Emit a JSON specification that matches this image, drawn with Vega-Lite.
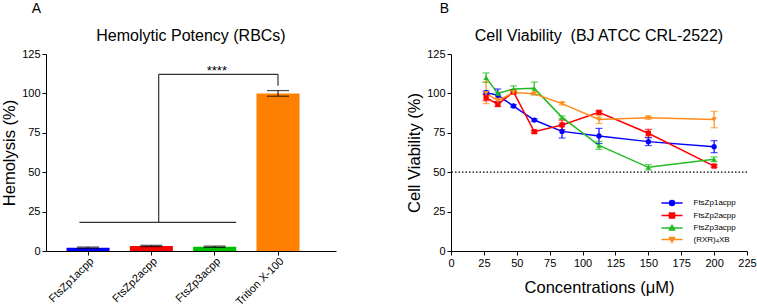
{
  "$schema": "https://vega.github.io/schema/vega-lite/v6.json",
  "padding": {"left": 1, "top": 2, "right": 0, "bottom": 0},
  "background": "white",
  "config": {
    "font": "Liberation Sans",
    "view": {"stroke": null},
    "axis": {
      "domainColor": "#000000", "tickColor": "#000000", "labelColor": "#000000", "titleColor": "#000000",
      "labelFont": "Liberation Sans", "labelFontSize": 11, "tickSize": 4, "labelPadding": 2,
      "titleFont": "Liberation Sans", "titleFontSize": 16.5, "titleFontWeight": "normal",
      "grid": false, "domainWidth": 1, "tickWidth": 1, "tickCount": 20, "labelFlush": false
    },
    "title": {"font": "Liberation Sans", "fontWeight": "normal", "color": "#000000"}
  },
  "resolve": {"scale": {"color": "independent"}, "legend": {"color": "independent"}},
  "spacing": 70,
  "hconcat": [
    {
      "title": {"text": "A", "anchor": "start", "dx": 30, "fontSize": 14, "offset": 12},
      "vconcat": [
        {
          "width": 290,
          "height": 197,
          "title": {"text": "Hemolytic Potency (RBCs)", "fontSize": 16, "offset": 4},
          "data": {"values": [
            {"group": "FtsZp1acpp", "mean": 2.1, "lo": 1.7, "hi": 2.5},
            {"group": "FtsZp2acpp", "mean": 3.2, "lo": 2.8, "hi": 3.6},
            {"group": "FtsZp3acpp", "mean": 2.7, "lo": 2.3, "hi": 3.1},
            {"group": "Trition X-100", "mean": 100, "lo": 98.2, "hi": 101.8}
          ]},
          "layer": [
            {
              "mark": {"type": "bar"},
              "encoding": {
                "x": {"field": "group", "type": "nominal", "sort": null,
                  "scale": {"paddingInner": 0.32, "paddingOuter": 0.45, "align": 0.36},
                  "axis": {"title": null, "labelAngle": -45, "labelFontSize": 11, "labelPadding": 0}},
                "y": {"field": "mean", "type": "quantitative",
                  "scale": {"domain": [0, 125], "nice": false},
                  "axis": {"values": [0, 25, 50, 75, 100, 125], "title": "Hemolysis (%)", "titlePadding": 4}},
                "color": {"field": "group", "type": "nominal", "sort": null,
                  "scale": {"domain": ["FtsZp1acpp", "FtsZp2acpp", "FtsZp3acpp", "Trition X-100"], "range": ["#0000FF", "#FF0000", "#00C000", "#FF8000"]}, "legend": null}
              }
            },
            {
              "mark": {"type": "rule", "color": "#000000", "strokeWidth": 1},
              "encoding": {
                "x": {"field": "group", "type": "nominal", "sort": null},
                "y": {"field": "lo", "type": "quantitative"},
                "y2": {"field": "hi"}
              }
            },
            {
              "mark": {"type": "tick", "color": "#000000", "thickness": 1.2},
              "encoding": {
                "x": {"field": "group", "type": "nominal", "sort": null},
                "y": {"field": "lo", "type": "quantitative"},
                "size": {"value": 22}
              }
            },
            {
              "mark": {"type": "tick", "color": "#000000", "thickness": 1.2},
              "encoding": {
                "x": {"field": "group", "type": "nominal", "sort": null},
                "y": {"field": "hi", "type": "quantitative"},
                "size": {"value": 22}
              }
            },
            {
              "data": {"values": [{"from": "FtsZp1acpp", "to": "FtsZp3acpp", "level": 18.2}]},
              "mark": {"type": "rule", "color": "#333333", "strokeWidth": 1.2},
              "encoding": {
                "x": {"field": "from", "type": "nominal", "bandPosition": 0.3},
                "x2": {"field": "to", "bandPosition": 1},
                "y": {"field": "level", "type": "quantitative"}
              }
            },
            {
              "data": {"values": [{"at": "FtsZp2acpp", "low": 18.2, "high": 112.1}]},
              "mark": {"type": "rule", "color": "#333333", "strokeWidth": 1.2},
              "encoding": {
                "x": {"field": "at", "type": "nominal", "bandPosition": 0.67},
                "y": {"field": "low", "type": "quantitative"},
                "y2": {"field": "high"}
              }
            },
            {
              "data": {"values": [{"from": "FtsZp2acpp", "to": "Trition X-100", "level": 112.1}]},
              "mark": {"type": "rule", "color": "#333333", "strokeWidth": 1.2},
              "encoding": {
                "x": {"field": "from", "type": "nominal", "bandPosition": 0.67},
                "x2": {"field": "to", "bandPosition": 0.5},
                "y": {"field": "level", "type": "quantitative"}
              }
            },
            {
              "data": {"values": [{"at": "Trition X-100", "low": 104.9, "high": 112.1}]},
              "mark": {"type": "rule", "color": "#333333", "strokeWidth": 1.2},
              "encoding": {
                "x": {"field": "at", "type": "nominal", "bandPosition": 0.5},
                "y": {"field": "low", "type": "quantitative"},
                "y2": {"field": "high"}
              }
            },
            {
              "data": {"values": [{"at": "FtsZp3acpp", "level": 111.5, "label": "****"}]},
              "mark": {"type": "text", "fontSize": 13, "baseline": "alphabetic", "align": "center", "color": "#000000"},
              "encoding": {
                "x": {"field": "at", "type": "nominal", "bandPosition": 0.55},
                "y": {"field": "level", "type": "quantitative"},
                "text": {"field": "label"}
              }
            }
          ]
        }
      ]
    },
    {
      "title": {"text": "B", "anchor": "start", "dx": 33, "fontSize": 14, "offset": 12},
      "resolve": {"legend": {"color": "independent"}},
      "vconcat": [
        {
          "width": 296,
          "height": 197,
          "title": {"text": "Cell Viability\u00a0\u00a0(BJ ATCC CRL-2522)", "fontSize": 16, "offset": 4},
          "data": {"values": [
            {"series": "FtsZp1acpp", "conc": 26.7, "mean": 100.5, "lo": 99.5, "hi": 101.5},
            {"series": "FtsZp1acpp", "conc": 35.6, "mean": 98.8, "lo": 94.8, "hi": 102.8},
            {"series": "FtsZp1acpp", "conc": 47.5, "mean": 92.0, "lo": 91.2, "hi": 92.8},
            {"series": "FtsZp1acpp", "conc": 63.3, "mean": 83.1, "lo": 82.3, "hi": 83.9},
            {"series": "FtsZp1acpp", "conc": 84.4, "mean": 75.9, "lo": 71.7, "hi": 80.1},
            {"series": "FtsZp1acpp", "conc": 112.5, "mean": 73.0, "lo": 68.2, "hi": 77.8},
            {"series": "FtsZp1acpp", "conc": 150, "mean": 69.4, "lo": 66.9, "hi": 71.9},
            {"series": "FtsZp1acpp", "conc": 200, "mean": 66.2, "lo": 62.4, "hi": 70.0},
            {"series": "FtsZp2acpp", "conc": 26.7, "mean": 97.3, "lo": 95.3, "hi": 99.3},
            {"series": "FtsZp2acpp", "conc": 35.6, "mean": 93.1, "lo": 91.6, "hi": 94.6},
            {"series": "FtsZp2acpp", "conc": 47.5, "mean": 100.9, "lo": 100.1, "hi": 101.7},
            {"series": "FtsZp2acpp", "conc": 63.3, "mean": 75.7, "lo": 74.9, "hi": 76.5},
            {"series": "FtsZp2acpp", "conc": 84.4, "mean": 80.0, "lo": 77.0, "hi": 83.0},
            {"series": "FtsZp2acpp", "conc": 112.5, "mean": 88.0, "lo": 87.2, "hi": 88.8},
            {"series": "FtsZp2acpp", "conc": 150, "mean": 74.7, "lo": 72.2, "hi": 77.2},
            {"series": "FtsZp2acpp", "conc": 200, "mean": 53.9, "lo": 53.1, "hi": 54.7},
            {"series": "FtsZp3acpp", "conc": 26.7, "mean": 110.0, "lo": 107.0, "hi": 113.0},
            {"series": "FtsZp3acpp", "conc": 35.6, "mean": 100.0, "lo": 99.2, "hi": 100.8},
            {"series": "FtsZp3acpp", "conc": 47.5, "mean": 102.8, "lo": 100.8, "hi": 104.8},
            {"series": "FtsZp3acpp", "conc": 63.3, "mean": 103.2, "lo": 99.2, "hi": 107.2},
            {"series": "FtsZp3acpp", "conc": 84.4, "mean": 84.8, "lo": 84.0, "hi": 85.6},
            {"series": "FtsZp3acpp", "conc": 112.5, "mean": 67.0, "lo": 64.5, "hi": 69.5},
            {"series": "FtsZp3acpp", "conc": 150, "mean": 53.1, "lo": 51.4, "hi": 54.8},
            {"series": "FtsZp3acpp", "conc": 200, "mean": 58.2, "lo": 56.7, "hi": 59.7},
            {"series": "(RXR)₄XB", "conc": 26.7, "mean": 100.0, "lo": 93.5, "hi": 107.5},
            {"series": "(RXR)₄XB", "conc": 35.6, "mean": 95.4, "lo": 93.4, "hi": 97.4},
            {"series": "(RXR)₄XB", "conc": 47.5, "mean": 100.5, "lo": 99.7, "hi": 101.3},
            {"series": "(RXR)₄XB", "conc": 63.3, "mean": 99.8, "lo": 99.0, "hi": 100.6},
            {"series": "(RXR)₄XB", "conc": 84.4, "mean": 93.5, "lo": 92.7, "hi": 94.3},
            {"series": "(RXR)₄XB", "conc": 112.5, "mean": 83.4, "lo": 80.9, "hi": 85.9},
            {"series": "(RXR)₄XB", "conc": 150, "mean": 84.6, "lo": 83.6, "hi": 85.6},
            {"series": "(RXR)₄XB", "conc": 200, "mean": 83.4, "lo": 78.2, "hi": 88.6}
          ]},
          "layer": [
            {
              "data": {"values": [{"threshold": 50}]},
              "mark": {"type": "rule", "color": "#000000", "strokeWidth": 1.2, "strokeDash": [1.5, 2]},
              "encoding": {"y": {"field": "threshold", "type": "quantitative"}}
            },
            {
              "mark": {"type": "line", "strokeWidth": 1.5},
              "encoding": {
                "x": {"field": "conc", "type": "quantitative",
                  "scale": {"domain": [0, 225], "nice": false},
                  "axis": {"values": [0, 25, 50, 75, 100, 125, 150, 175, 200, 225], "title": "Concentrations (μM)", "titlePadding": 11}},
                "y": {"field": "mean", "type": "quantitative",
                  "scale": {"domain": [0, 125], "nice": false},
                  "axis": {"values": [0, 25, 50, 75, 100, 125], "title": "Cell Viability (%)", "titlePadding": 4}},
                "color": {"field": "series", "type": "nominal",
                  "scale": {"domain": ["FtsZp1acpp", "FtsZp2acpp", "FtsZp3acpp", "(RXR)₄XB"],
                            "range": ["#0000FF", "#FF0000", "#22BB22", "#FF8C1A"]},
                  "legend": {
                    "title": null, "orient": "none", "legendX": 215, "legendY": 143,
                    "labelFontSize": 8, "labelColor": "#000000", "labelFont": "Liberation Sans",
                    "symbolSize": 100, "symbolStrokeWidth": 1.5, "labelOffset": 15.5, "rowPadding": 0.5,
                    "encode": {"symbols": {"update": {
                      "shape": {"signal": "datum.value === 'FtsZp1acpp' ? 'M-2.1,0H2.1M0.5,0A0.5,0.5,0,1,1,-0.5,0A0.5,0.5,0,1,1,0.5,0Z' : datum.value === 'FtsZp2acpp' ? 'M-2.1,0H2.1M-0.5,-0.5H0.5V0.5H-0.5Z' : datum.value === 'FtsZp3acpp' ? 'M-2.1,0H2.1M0,-0.55L0.5,0.4H-0.5Z' : 'M-2.1,0H2.1M0,0.55L0.5,-0.4H-0.5Z'"},
                      "fill": {"scale": "color", "field": "value"},
                      "stroke": {"scale": "color", "field": "value"},
                      "strokeWidth": {"value": 1.5}
                    }}}
                  }}
              }
            },
            {
              "mark": {"type": "rule", "strokeWidth": 1.2},
              "encoding": {
                "x": {"field": "conc", "type": "quantitative"},
                "y": {"field": "lo", "type": "quantitative"},
                "y2": {"field": "hi"},
                "color": {"field": "series", "type": "nominal"}
              }
            },
            {
              "mark": {"type": "tick", "orient": "horizontal", "thickness": 1.2},
              "encoding": {
                "x": {"field": "conc", "type": "quantitative"},
                "y": {"field": "lo", "type": "quantitative"},
                "size": {"value": 7},
                "color": {"field": "series", "type": "nominal"}
              }
            },
            {
              "mark": {"type": "tick", "orient": "horizontal", "thickness": 1.2},
              "encoding": {
                "x": {"field": "conc", "type": "quantitative"},
                "y": {"field": "hi", "type": "quantitative"},
                "size": {"value": 7},
                "color": {"field": "series", "type": "nominal"}
              }
            },
            {
              "transform": [{"filter": "datum.series === 'FtsZp1acpp'"}],
              "mark": {"type": "point", "filled": true, "opacity": 1, "size": 28, "shape": "circle"},
              "encoding": {
                "x": {"field": "conc", "type": "quantitative"},
                "y": {"field": "mean", "type": "quantitative"},
                "color": {"field": "series", "type": "nominal"}
              }
            },
            {
              "transform": [{"filter": "datum.series === 'FtsZp2acpp'"}],
              "mark": {"type": "point", "filled": true, "opacity": 1, "size": 28, "shape": "square"},
              "encoding": {
                "x": {"field": "conc", "type": "quantitative"},
                "y": {"field": "mean", "type": "quantitative"},
                "color": {"field": "series", "type": "nominal"}
              }
            },
            {
              "transform": [{"filter": "datum.series === 'FtsZp3acpp'"}],
              "mark": {"type": "point", "filled": true, "opacity": 1, "size": 28, "shape": "triangle-up"},
              "encoding": {
                "x": {"field": "conc", "type": "quantitative"},
                "y": {"field": "mean", "type": "quantitative"},
                "color": {"field": "series", "type": "nominal"}
              }
            },
            {
              "transform": [{"filter": "datum.series === '(RXR)₄XB'"}],
              "mark": {"type": "point", "filled": true, "opacity": 1, "size": 28, "shape": "triangle-down"},
              "encoding": {
                "x": {"field": "conc", "type": "quantitative"},
                "y": {"field": "mean", "type": "quantitative"},
                "color": {"field": "series", "type": "nominal"}
              }
            }
          ]
        }
      ]
    }
  ]
}
